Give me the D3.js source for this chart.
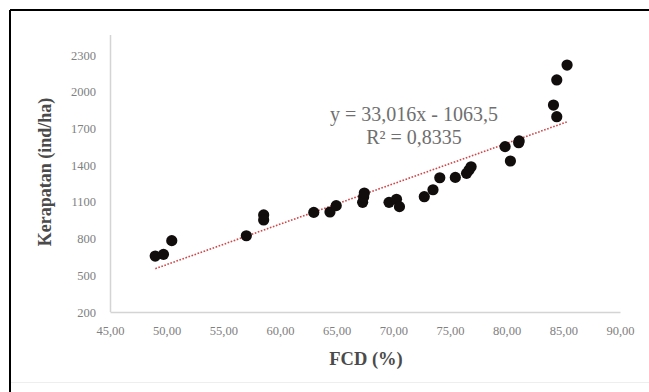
<!DOCTYPE html>
<html>
<head>
<meta charset="utf-8">
<script src="https://cdn.jsdelivr.net/npm/d3@7"></script>
<style>
  body { margin: 0; background: #fff; }
  svg { display: block; }
</style>
</head>
<body>
<svg id="chart"></svg>
<script>
// data
const fcd = [48.99, 49.72, 50.45, 57.03, 58.56, 58.56, 62.98, 64.41, 64.96,
  67.29, 67.38, 67.44, 69.62, 70.28, 70.54, 72.73, 73.5, 74.1, 75.47,
  76.46, 76.68, 76.86, 79.86, 80.33, 81.06, 81.1, 84.13, 84.42, 84.42, 85.33];
const kerapatan = [657, 671, 783, 823, 993, 952, 1014, 1017, 1069,
  1096, 1140, 1172, 1096, 1121, 1061, 1142, 1199, 1297, 1300,
  1333, 1360, 1387, 1551, 1434, 1583, 1598, 1891, 1796, 2096, 2218];
const xTicks = [45, 50, 55, 60, 65, 70, 75, 80, 85, 90];
const yTicks = [200, 500, 800, 1100, 1400, 1700, 2000, 2300];
const slope = 33.016, intercept = -1063.5;
const trendRange = [49, 85.3];

const width = 649, height = 392;
const margin = { top: 55, left: 110 };
const serif = '"Liberation Serif", "Times New Roman", serif';

const svg = d3.select('#chart').attr('width', width).attr('height', height);

// frame of the pasted figure
svg.append('line').attr('x1', 10).attr('x2', width).attr('y1', 10).attr('y2', 10)
  .attr('stroke', '#000').attr('stroke-width', 2);
svg.append('line').attr('x1', 10).attr('x2', 10).attr('y1', 10).attr('y2', height)
  .attr('stroke', '#000').attr('stroke-width', 2);
svg.append('line').attr('x1', 11).attr('x2', width).attr('y1', 382.5).attr('y2', 382.5)
  .attr('stroke', '#eee').attr('stroke-width', 1);

const chart = svg.append('g').attr('transform', `translate(${margin.left},${margin.top})`);

const x = d3.scaleLinear().domain([45, 90]).range([0, 510]);
const y = d3.scaleLinear().domain([200, 2300]).range([257, 0]);

const fmt = d => d3.format('.2f')(d).replace('.', ',');

// axes
const xAxis = chart.append('g').attr('transform', `translate(0,${y(200)})`)
  .call(d3.axisBottom(x).tickValues(xTicks).tickSize(0).tickPadding(14).tickFormat(fmt));
const yAxis = chart.append('g')
  .call(d3.axisLeft(y).tickValues(yTicks).tickSize(0).tickPadding(14).tickFormat(d3.format('d')));

[xAxis, yAxis].forEach(a => {
  a.select('.domain').attr('stroke', '#d4d4d4').attr('stroke-width', 1.5);
  a.selectAll('text').attr('fill', '#808080')
    .style('font-family', serif)
    .style('font-size', '12.5px');
});
// y axis line reaches a bit above the top tick
yAxis.select('.domain').attr('d', `M0.5,${y(200)}V-20`);

// trend line
chart.append('line')
  .attr('x1', x(trendRange[0])).attr('y1', y(slope * trendRange[0] + intercept))
  .attr('x2', x(trendRange[1])).attr('y2', y(slope * trendRange[1] + intercept))
  .attr('stroke', '#c8262a').attr('stroke-width', 1.6).attr('stroke-dasharray', '1.6,1.6')
  .attr('opacity', 0.85);

// points
chart.selectAll('circle').data(fcd).enter().append('circle')
  .attr('cx', (d, i) => x(d))
  .attr('cy', (d, i) => y(kerapatan[i]))
  .attr('r', 5.6)
  .attr('fill', '#120d0d');

// equation
const eq = chart.append('text')
  .attr('text-anchor', 'middle')
  .attr('fill', '#6f6f6f')
  .style('font-family', serif)
  .style('font-size', '20px');
eq.append('tspan').attr('x', 304).attr('y', 66).text('y = 33,016x - 1063,5');
eq.append('tspan').attr('x', 304).attr('y', 89).text('R² = 0,8335');

// axis titles
svg.append('text')
  .attr('x', 366).attr('y', 365)
  .attr('text-anchor', 'middle')
  .attr('fill', '#4a4a4a')
  .style('font-family', serif)
  .style('font-weight', 'bold').style('font-size', '18.5px')
  .text('FCD (%)');

svg.append('text')
  .attr('transform', 'translate(51,172) rotate(-90)')
  .attr('text-anchor', 'middle')
  .attr('fill', '#4a4a4a')
  .style('font-family', serif)
  .style('font-weight', 'bold').style('font-size', '18px')
  .text('Kerapatan (ind/ha)');
</script>
</body>
</html>
